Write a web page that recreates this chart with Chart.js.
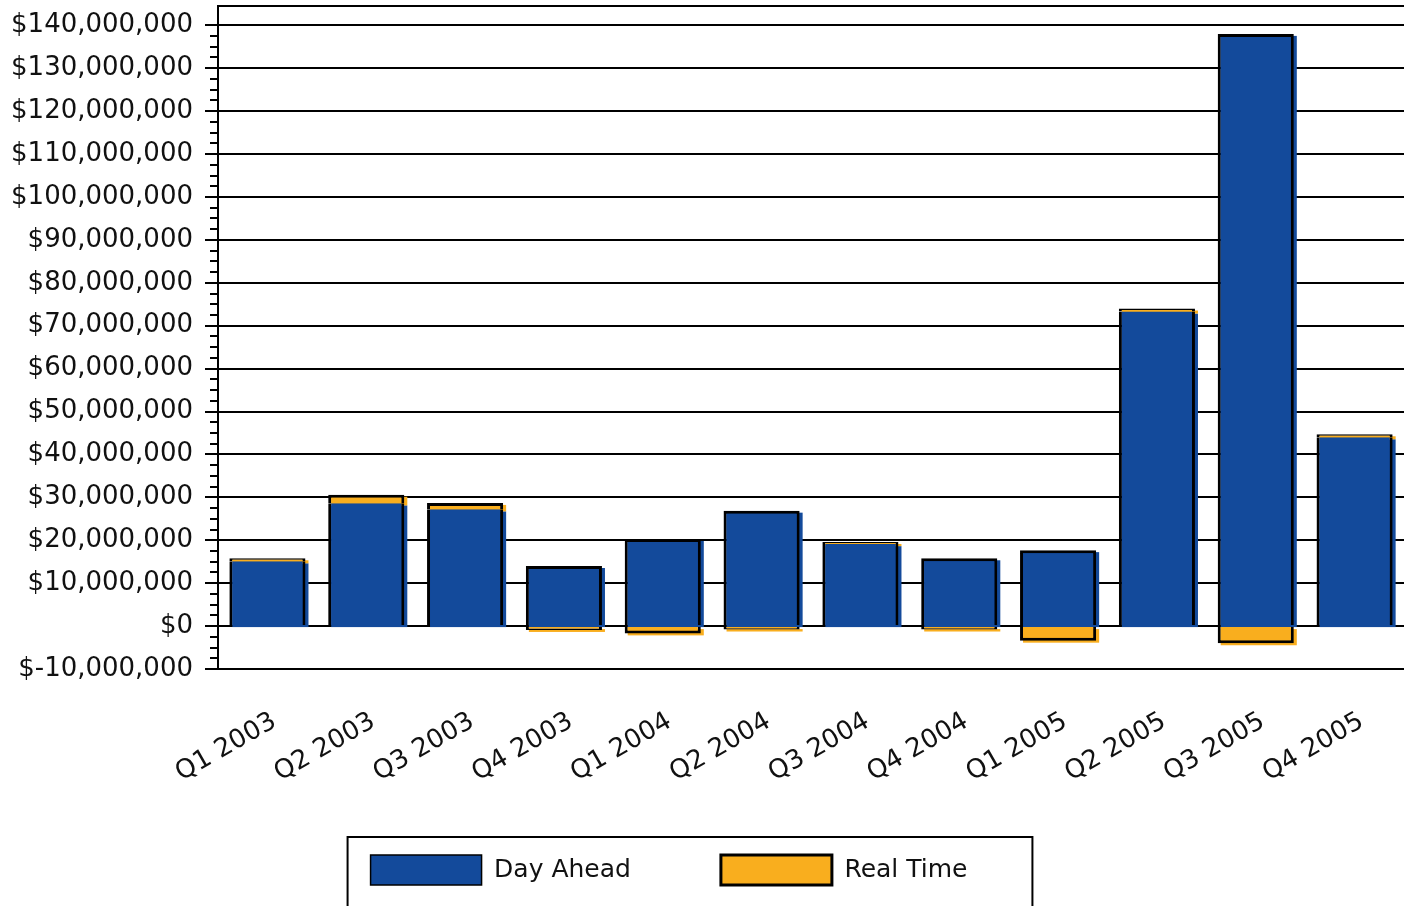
<!DOCTYPE html>
<html>
<head>
<meta charset="utf-8">
<script src="https://cdn.jsdelivr.net/npm/chart.js@4/dist/chart.umd.min.js"></script>
<style>
html, body { margin: 0; padding: 0; background: #fff; overflow: hidden; }
#wrap { width: 1404px; height: 950px; position: relative; }
</style>
</head>
<body>
<div id="wrap"><canvas id="myChart"></canvas></div>
<script>
var quarters = ['Q1 2003', 'Q2 2003', 'Q3 2003', 'Q4 2003', 'Q1 2004', 'Q2 2004',
	'Q3 2004', 'Q4 2004', 'Q1 2005', 'Q2 2005', 'Q3 2005', 'Q4 2005'];

var dayAhead = [15100000, 28600000, 27200000, 14000000, 20300000, 26900000,
	19100000, 15800000, 17700000, 73300000, 138000000, 44000000];

var realTime = [700000, 2000000, 1500000, -900000, -1700000, -800000,
	500000, -800000, -3400000, 700000, -4000000, 700000];

var yTicks = [-10000000, 0, 10000000, 20000000, 30000000, 40000000, 50000000, 60000000,
	70000000, 80000000, 90000000, 100000000, 110000000, 120000000, 130000000, 140000000];

var yMin = -10000000;
var yMax = 144500000;
var minorStep = 2500000;

var blue = '#134A9B';
var orange = '#F9AE1E';
var txt = '#111';
var font = { family: 'DejaVu Sans', size: 25 };
var axisFont = { family: 'DejaVu Sans', size: 26 };

// legend sits a bit left of centre and higher than chart.js puts it
var legendShift = {
	id: 'legendShift',
	afterLayout: function(chart) {
		var lg = chart.legend;
		lg.left -= 39;
		lg.right -= 39;
		lg.top -= 55;
		lg.bottom -= 55;
	}
};

// offset shadow under each bar
var barShadow = {
	id: 'barShadow',
	beforeDatasetsDraw: function(chart) {
		var ctx = chart.ctx;
		ctx.save();
		chart.data.datasets.forEach(function(ds, di) {
			var meta = chart.getDatasetMeta(di);
			meta.data.forEach(function(bar) {
				var top = Math.min(bar.y, bar.base);
				var h = Math.abs(bar.base - bar.y);
				ctx.fillStyle = ds.backgroundColor;
				ctx.fillRect(bar.x - bar.width / 2 + 3, top + 2, bar.width, h);
			});
		});
		ctx.restore();
	}
};

// top frame line, minor ticks on the y axis and the box round the legend
var extras = {
	id: 'extras',
	afterDraw: function(chart) {
		var ctx = chart.ctx;
		var area = chart.chartArea;
		var y = chart.scales.y;
		var lastTick = yTicks[yTicks.length - 1];
		ctx.save();
		ctx.strokeStyle = '#000';
		ctx.lineWidth = 2;
		ctx.beginPath();
		ctx.moveTo(area.left - 1, area.top);
		ctx.lineTo(area.right, area.top);
		for (var v = yMin; v <= lastTick; v += minorStep) {
			if (v % 10000000 === 0) continue;
			var py = Math.round(y.getPixelForValue(v));
			ctx.moveTo(area.left - 8, py);
			ctx.lineTo(area.left, py);
		}
		ctx.stroke();

		var hb = chart.legend.legendHitBoxes;
		if (hb && hb.length) {
			var last = hb[hb.length - 1];
			var l = hb[0].left - 23;
			var r = last.left + last.width + 65;
			var t = hb[0].top - 18;
			ctx.strokeRect(l, t, r - l, 300);
		}
		ctx.restore();
	}
};

var ctx = document.getElementById('myChart').getContext('2d');
var chart = new Chart(ctx, {
	type: 'bar',
	data: {
		labels: quarters,
		datasets: [{
				label: 'Day Ahead',
				data: dayAhead,
				backgroundColor: blue,
				borderColor: '#000',
				borderWidth: function(c) {
					if (c.dataIndex !== undefined && realTime[c.dataIndex] > 0) {
						return { top: 0, left: 3, right: 3, bottom: 0 };
					}
					return 3;
				},
				borderSkipped: 'start',
				stack: 's'
			},
			{
				label: 'Real Time',
				data: realTime,
				backgroundColor: orange,
				borderColor: '#000',
				borderWidth: 3,
				borderSkipped: 'start',
				stack: 's'
			}
		]
	},
	options: {
		responsive: true,
		maintainAspectRatio: false,
		animation: false,
		layout: { padding: { left: 12, right: 0, top: 6, bottom: 0 } },
		datasets: {
			bar: { barPercentage: 0.77, categoryPercentage: 1 }
		},
		plugins: {
			tooltip: { enabled: false },
			legend: {
				position: 'bottom',
				labels: {
					boxWidth: 111,
					boxHeight: 30,
					padding: 90,
					color: txt,
					font: font
				}
			}
		},
		scales: {
			x: {
				stacked: true,
				grid: { display: false, drawTicks: false },
				border: { display: true, color: '#000', width: 2 },
				ticks: {
					color: txt,
					font: axisFont,
					maxRotation: 30,
					minRotation: 30,
					padding: 37,
					labelOffset: 7
				},
				afterFit: function(scale) {
					scale.height = 151;
					scale.paddingLeft = 0;
					scale.paddingRight = 0;
				}
			},
			y: {
				stacked: true,
				min: yMin,
				max: yMax,
				grid: {
					color: '#000',
					lineWidth: 2,
					tickLength: 13,
					tickColor: '#000'
				},
				border: { display: true, color: '#000', width: 2 },
				ticks: {
					autoSkip: false,
					color: txt,
					font: axisFont,
					padding: 12,
					callback: function(v) {
						return '$' + v.toLocaleString('en-US');
					}
				},
				afterBuildTicks: function(scale) {
					scale.ticks = yTicks.map(function(v) {
						return { value: v };
					});
				},
				afterFit: function(scale) {
					scale.paddingTop = 0;
					scale.width = 206;
				}
			}
		}
	},
	plugins: [legendShift, barShadow, extras]
});
</script>
</body>
</html>
